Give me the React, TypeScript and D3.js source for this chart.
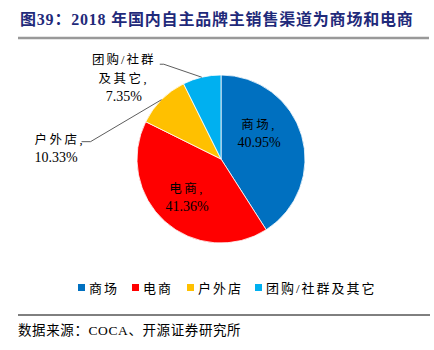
import * as d3 from 'd3';

const channels = ['商场', '电商', '户外店', '团购/社群及其它'];
const shares = [40.95, 41.36, 10.33, 7.35];
const colors = ['#0070C0', '#FF0000', '#FFC000', '#00B0F0'];
const shareLabels = ['40.95%', '41.36%', '10.33%', '7.35%'];

const W = 434;
const H = 350;
const CN = '"Liberation Serif", "Times New Roman", "Noto Sans CJK SC", serif';

export default function App() {
  const cx = 221;
  const cy = 159;
  const r = 84;

  const pie = d3.pie<number>().sort(null).value((d) => d)(shares);
  const arc = d3.arc<d3.PieArcDatum<number>>().innerRadius(0).outerRadius(r);

  const mid = (d: d3.PieArcDatum<number>) => (d.startAngle + d.endAngle) / 2;
  const polar = (a: number, rr: number): [number, number] => [Math.sin(a) * rr, -Math.cos(a) * rr];

  // inside labels (mall, e-commerce)
  const inside = [
    { i: 0, a: mid(pie[0]) - 0.31, rr: 46, name: '商场,' },
    { i: 1, a: mid(pie[1]), rr: 51, name: '电商,' },
  ];

  // outside labels with leader lines
  const tipOut = polar(mid(pie[2]), r);
  const tipGroup = polar(mid(pie[3]), r);
  const elbowOut: [number, number] = [tipOut[0] - 71, tipOut[1] + 42];
  const elbowGroup: [number, number] = [tipGroup[0] - 38, tipGroup[1] - 13];
  const groupX = elbowGroup[0] - 40;

  const legendX = [78, 132, 187, 255];

  return (
    <svg width={W} height={H} style={{ position: 'absolute', left: 0, top: 0, background: '#fff' }}>
      <text x={20} y={25} fontFamily={CN} fontSize={16} fontWeight="bold" letterSpacing={0.8} fill="#1F2A7A">
        图39：2018 年国内自主品牌主销售渠道为商场和电商
      </text>
      <line x1={18} x2={429} y1={38} y2={38} stroke="#999" strokeWidth={2.5} />

      <g transform={`translate(${cx},${cy})`}>
        {pie.map((d, i) => (
          <path key={i} d={arc(d) ?? ''} fill={colors[i]} stroke="#fff" strokeWidth={0.8} />
        ))}
        {inside.map(({ i, a, rr, name }) => {
          const [x, y] = polar(a, rr);
          return (
            <text key={i} x={x} y={y} textAnchor="middle" fontFamily={CN} fontSize={14} fill="#000">
              <tspan x={x} dy={-4} fontSize={12.5} letterSpacing={2.5}>{name}</tspan>
              <tspan x={x} dy={18}>{shareLabels[i]}</tspan>
            </text>
          );
        })}

        <polyline
          points={`${elbowOut[0] - 9},${elbowOut[1]} ${elbowOut[0]},${elbowOut[1]} ${tipOut[0]},${tipOut[1]}`}
          fill="none" stroke="#333" strokeWidth={0.8}
        />
        <text x={elbowOut[0] - 56} y={elbowOut[1]} fontFamily={CN} fontSize={14} fill="#000">
          <tspan x={elbowOut[0] - 56} dy={2} fontSize={12.5} letterSpacing={2.5}>户外店,</tspan>
          <tspan x={elbowOut[0] - 56} dy={18}>{shareLabels[2]}</tspan>
        </text>

        <polyline
          points={`${elbowGroup[0] - 4},${elbowGroup[1]} ${elbowGroup[0]},${elbowGroup[1]} ${tipGroup[0]},${tipGroup[1]}`}
          fill="none" stroke="#333" strokeWidth={0.8}
        />
        <text x={groupX} y={elbowGroup[1]} textAnchor="middle" fontFamily={CN} fontSize={14} fill="#000">
          <tspan x={groupX} dy={0} fontSize={12.5} letterSpacing={2}>团购/社群</tspan>
          <tspan x={groupX} dy={19} fontSize={12.5} letterSpacing={2.5}>及其它,</tspan>
          <tspan x={groupX} dy={18}>{shareLabels[3]}</tspan>
        </text>
      </g>

      {channels.map((c, i) => (
        <g key={c} transform={`translate(${legendX[i]},288)`}>
          <rect x={0} y={-4} width={7} height={7} fill={colors[i]} />
          <text x={11} y={5} fontFamily={CN} fontSize={13} letterSpacing={2} fill="#000">{c}</text>
        </g>
      ))}

      <line x1={18} x2={430} y1={315} y2={315} stroke="#000" strokeWidth={1} />
      <text x={18} y={335} fontFamily={CN} fontSize={13.5} letterSpacing={0.6} fill="#000">
        数据来源：COCA、开源证券研究所
      </text>
    </svg>
  );
}
